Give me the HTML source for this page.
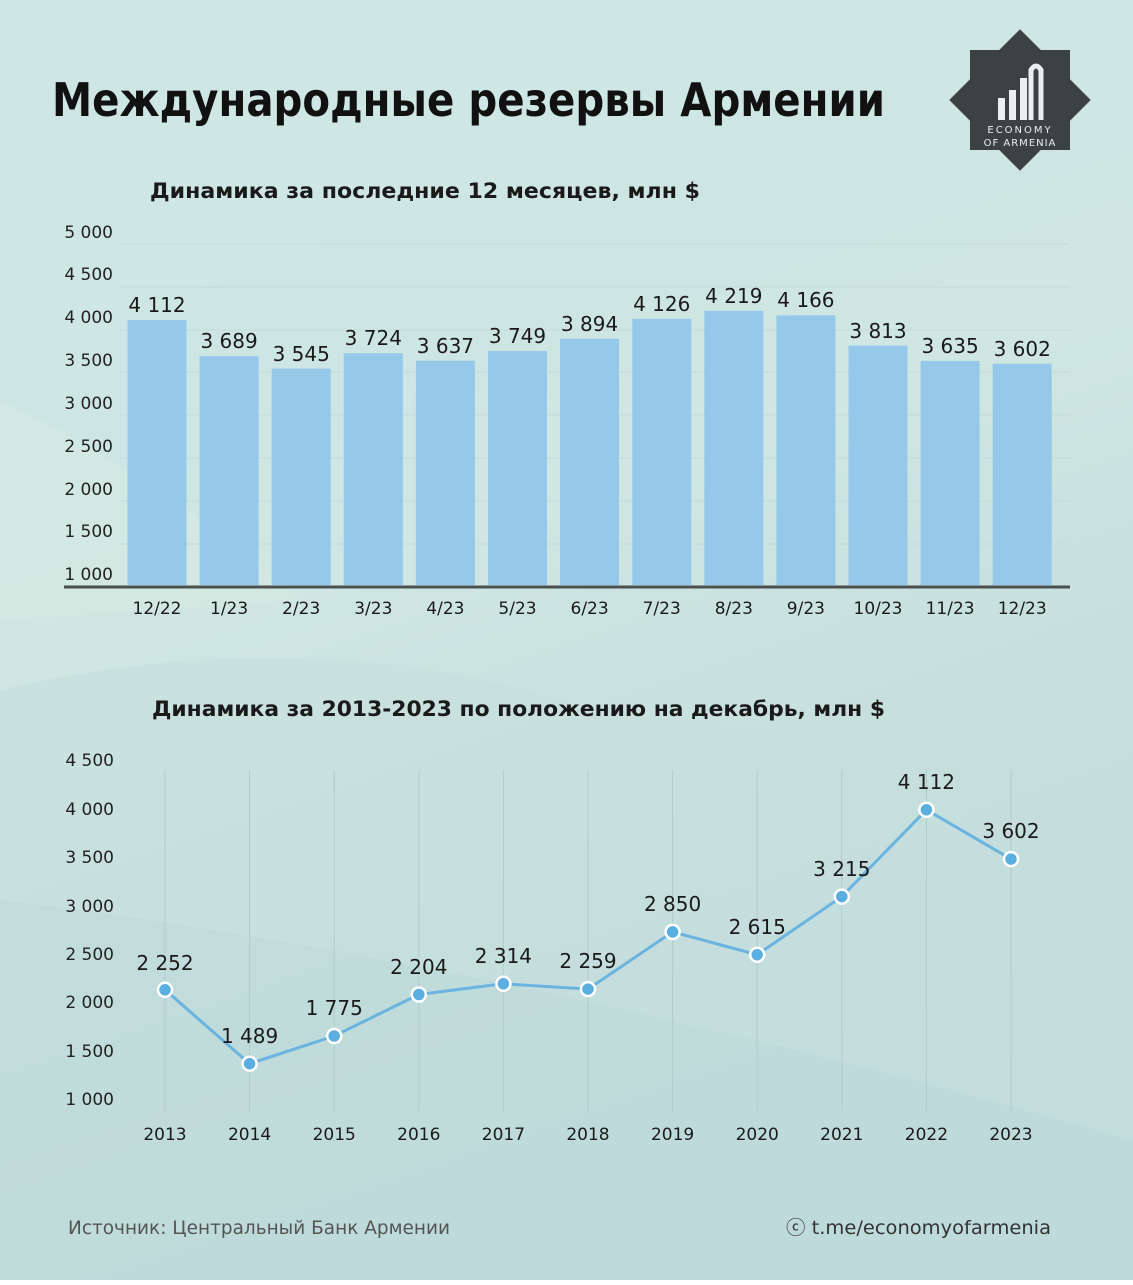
<!DOCTYPE html>
<html><head><meta charset="utf-8"><style>
html,body{margin:0;padding:0}
body{width:1133px;height:1280px;overflow:hidden;font-family:"Liberation Sans","DejaVu Sans",sans-serif}
</style></head><body>
<svg width="1133" height="1280" xmlns="http://www.w3.org/2000/svg" font-family="'DejaVu Sans','Liberation Sans',sans-serif">
<defs>
<linearGradient id="bg" x1="0" y1="0" x2="0.3" y2="1">
<stop offset="0" stop-color="#cde6e5"/><stop offset="0.5" stop-color="#cfe6e2"/><stop offset="1" stop-color="#bcd9d9"/>
</linearGradient>
</defs>
<rect width="1133" height="1280" fill="url(#bg)"/>
<path d="M0 400 Q150 470 300 600 L0 620Z" fill="#d6e9e1" opacity="0.6"/>
<path d="M0 690 Q300 620 560 700 Q800 760 1133 690 L1133 1280 L0 1280Z" fill="#c6e0de" opacity="0.6"/>
<path d="M0 900 Q500 960 1133 1140 L1133 1280 L0 1280Z" fill="#b8d6d6" opacity="0.4"/>

<text x="52" y="116" font-size="46" font-weight="bold" fill="#111" textLength="833" lengthAdjust="spacingAndGlyphs">Международные резервы Армении</text>

<g transform="translate(1020,100)">
<rect x="-50" y="-50" width="100" height="100" fill="#3b4242"/>
<rect x="-50" y="-50" width="100" height="100" fill="#3b4242" transform="rotate(45)"/>
<rect x="-22" y="-2" width="7" height="22" fill="#e8f0f0"/>
<rect x="-11" y="-10" width="7" height="30" fill="#e8f0f0"/>
<rect x="0" y="-22" width="7" height="42" fill="#e8f0f0"/>
<path d="M11 20 V-30 Q16 -38 21 -30 V20" stroke="#e8f0f0" stroke-width="5" fill="none"/>
<text x="0" y="33" font-size="10" fill="#e8f0f0" text-anchor="middle" letter-spacing="2">ECONOMY</text>
<text x="0" y="46" font-size="10" fill="#e8f0f0" text-anchor="middle" letter-spacing="1">OF ARMENIA</text>
</g>

<text x="150" y="198" font-size="21" font-weight="bold" fill="#1a1a1a" textLength="550" lengthAdjust="spacingAndGlyphs">Динамика за последние 12 месяцев, млн $</text>

<g stroke="#c3d9d9" stroke-width="1">
<line x1="120" x2="1070" y1="244" y2="244"/><line x1="120" x2="1070" y1="287" y2="287"/>
<line x1="120" x2="1070" y1="330" y2="330"/><line x1="120" x2="1070" y1="372" y2="372"/>
<line x1="120" x2="1070" y1="415" y2="415"/><line x1="120" x2="1070" y1="458" y2="458"/>
<line x1="120" x2="1070" y1="501" y2="501"/><line x1="120" x2="1070" y1="544" y2="544"/>
</g>
<g font-size="17" fill="#222" text-anchor="end">
<text x="113" y="238">5 000</text><text x="113" y="280">4 500</text><text x="113" y="323">4 000</text>
<text x="113" y="366">3 500</text><text x="113" y="409">3 000</text><text x="113" y="452">2 500</text>
<text x="113" y="495">2 000</text><text x="113" y="537">1 500</text><text x="113" y="580">1 000</text>
</g>
<g fill="#95c8e9">
<rect x="127.5" y="320" width="59" height="265"/>
<rect x="199.6" y="356.3" width="59" height="228.7"/>
<rect x="271.7" y="368.6" width="59" height="216.4"/>
<rect x="343.8" y="353.3" width="59" height="231.7"/>
<rect x="415.9" y="360.7" width="59" height="224.3"/>
<rect x="488" y="351.1" width="59" height="233.9"/>
<rect x="560.1" y="338.7" width="59" height="246.3"/>
<rect x="632.2" y="318.8" width="59" height="266.2"/>
<rect x="704.3" y="310.8" width="59" height="274.2"/>
<rect x="776.4" y="315.4" width="59" height="269.6"/>
<rect x="848.5" y="345.6" width="59" height="239.4"/>
<rect x="920.6" y="360.9" width="59" height="224.1"/>
<rect x="992.7" y="363.7" width="59" height="221.3"/>
</g>
<line x1="64" x2="1070" y1="587" y2="587" stroke="#4a4f50" stroke-width="3"/>
<g font-size="20" fill="#1a1a1a" text-anchor="middle">
<text x="157" y="312">4 112</text><text x="229.1" y="348">3 689</text><text x="301.2" y="361">3 545</text>
<text x="373.3" y="345">3 724</text><text x="445.4" y="353">3 637</text><text x="517.5" y="343">3 749</text>
<text x="589.6" y="331">3 894</text><text x="661.7" y="311">4 126</text><text x="733.8" y="303">4 219</text>
<text x="805.9" y="307">4 166</text><text x="878" y="338">3 813</text><text x="950.1" y="353">3 635</text>
<text x="1022.2" y="356">3 602</text>
</g>
<g font-size="17" fill="#1a1a1a" text-anchor="middle">
<text x="157" y="614">12/22</text><text x="229.1" y="614">1/23</text><text x="301.2" y="614">2/23</text>
<text x="373.3" y="614">3/23</text><text x="445.4" y="614">4/23</text><text x="517.5" y="614">5/23</text>
<text x="589.6" y="614">6/23</text><text x="661.7" y="614">7/23</text><text x="733.8" y="614">8/23</text>
<text x="805.9" y="614">9/23</text><text x="878" y="614">10/23</text><text x="950.1" y="614">11/23</text>
<text x="1022.2" y="614">12/23</text>
</g>

<text x="152" y="716" font-size="21" font-weight="bold" fill="#1a1a1a" textLength="733" lengthAdjust="spacingAndGlyphs">Динамика за 2013-2023 по положению на декабрь, млн $</text>

<g stroke="#b3cbcb" stroke-width="1">
<line x1="165" x2="165" y1="770" y2="1111"/><line x1="249.6" x2="249.6" y1="770" y2="1111"/>
<line x1="334.2" x2="334.2" y1="770" y2="1111"/><line x1="418.8" x2="418.8" y1="770" y2="1111"/>
<line x1="503.4" x2="503.4" y1="770" y2="1111"/><line x1="588" x2="588" y1="770" y2="1111"/>
<line x1="672.6" x2="672.6" y1="770" y2="1111"/><line x1="757.2" x2="757.2" y1="770" y2="1111"/>
<line x1="841.8" x2="841.8" y1="770" y2="1111"/><line x1="926.4" x2="926.4" y1="770" y2="1111"/>
<line x1="1011" x2="1011" y1="770" y2="1111"/>
</g>
<g font-size="17" fill="#222" text-anchor="end">
<text x="114" y="766">4 500</text><text x="114" y="815">4 000</text><text x="114" y="863">3 500</text>
<text x="114" y="912">3 000</text><text x="114" y="960">2 500</text><text x="114" y="1008">2 000</text>
<text x="114" y="1057">1 500</text><text x="114" y="1105">1 000</text>
</g>
<polyline fill="none" stroke="#6ab4df" stroke-width="3" points="165,989.8 249.6,1063.7 334.2,1036 418.8,994.5 503.4,983.8 588,989.1 672.6,931.9 757.2,954.7 841.8,896.6 926.4,809.8 1011,859.1"/>
<g fill="#5aaee0" stroke="#fff" stroke-width="2.5">
<circle cx="165" cy="989.8" r="7"/><circle cx="249.6" cy="1063.7" r="7"/><circle cx="334.2" cy="1036" r="7"/>
<circle cx="418.8" cy="994.5" r="7"/><circle cx="503.4" cy="983.8" r="7"/><circle cx="588" cy="989.1" r="7"/>
<circle cx="672.6" cy="931.9" r="7"/><circle cx="757.2" cy="954.7" r="7"/><circle cx="841.8" cy="896.6" r="7"/>
<circle cx="926.4" cy="809.8" r="7"/><circle cx="1011" cy="859.1" r="7"/>
</g>
<g font-size="20" fill="#1a1a1a" text-anchor="middle">
<text x="165" y="970">2 252</text><text x="249.6" y="1043">1 489</text><text x="334.2" y="1015">1 775</text>
<text x="418.8" y="974">2 204</text><text x="503.4" y="963">2 314</text><text x="588" y="968">2 259</text>
<text x="672.6" y="911">2 850</text><text x="757.2" y="934">2 615</text><text x="841.8" y="876">3 215</text>
<text x="926.4" y="789">4 112</text><text x="1011" y="838">3 602</text>
</g>
<g font-size="17" fill="#1a1a1a" text-anchor="middle">
<text x="165" y="1140">2013</text><text x="249.6" y="1140">2014</text><text x="334.2" y="1140">2015</text>
<text x="418.8" y="1140">2016</text><text x="503.4" y="1140">2017</text><text x="588" y="1140">2018</text>
<text x="672.6" y="1140">2019</text><text x="757.2" y="1140">2020</text><text x="841.8" y="1140">2021</text>
<text x="926.4" y="1140">2022</text><text x="1011" y="1140">2023</text>
</g>

<text x="68" y="1234" font-size="19" fill="#555" textLength="382" lengthAdjust="spacingAndGlyphs">Источник: Центральный Банк Армении</text>
<text x="786" y="1234" font-size="19" fill="#333" textLength="265" lengthAdjust="spacingAndGlyphs">ⓒ t.me/economyofarmenia</text>
</svg>
</body></html>
